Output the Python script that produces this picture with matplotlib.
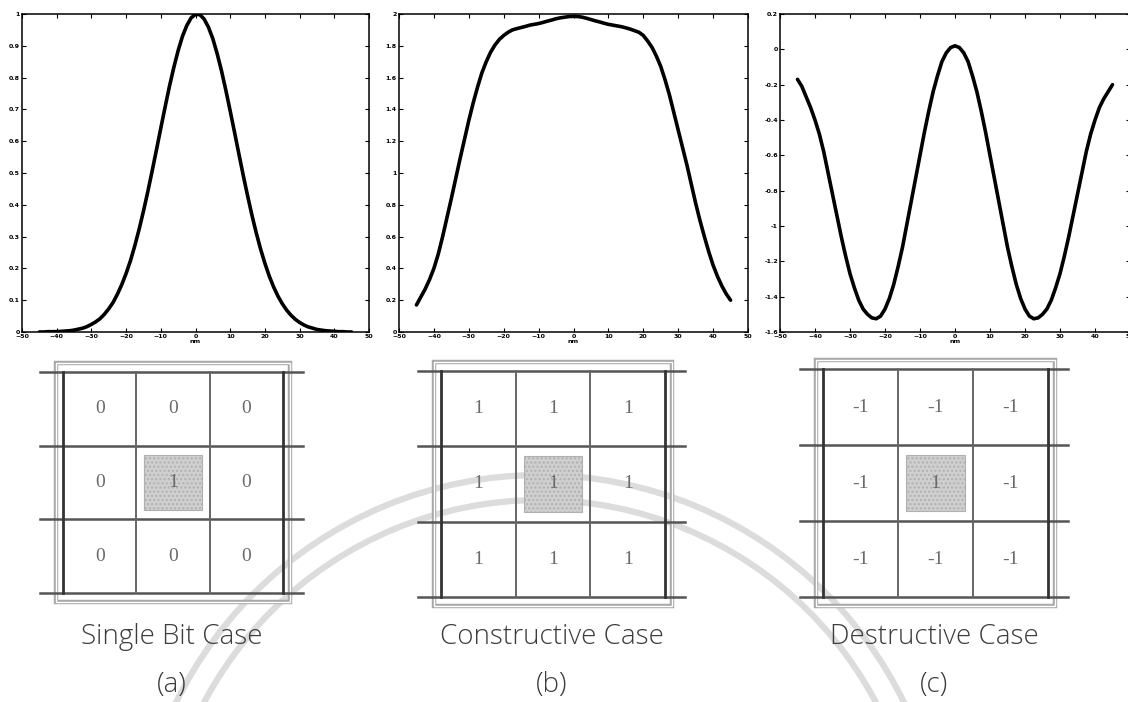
import matplotlib
matplotlib.use("Agg")
import matplotlib.pyplot as plt
from matplotlib.patches import Rectangle, Arc
from matplotlib.ticker import FuncFormatter

# perfiles de intensidad (nm vs amplitud)
nm = [-45, -43.75, -42.5, -41.25, -40, -38.75, -37.5, -36.25, -35, -33.75,
      -32.5, -31.25, -30, -28.75, -27.5, -26.25, -25, -23.75, -22.5, -21.25,
      -20, -18.75, -17.5, -16.25, -15, -13.75, -12.5, -11.25, -10, -8.75,
      -7.5, -6.25, -5, -3.75, -2.5, -1.25, 0, 1.25, 2.5, 3.75, 5, 6.25, 7.5,
      8.75, 10, 11.25, 12.5, 13.75, 15, 16.25, 17.5, 18.75, 20, 21.25, 22.5,
      23.75, 25, 26.25, 27.5, 28.75, 30, 31.25, 32.5, 33.75, 35, 36.25, 37.5,
      38.75, 40, 41.25, 42.5, 43.75, 45]

perfil_simple = [0.000, 0.000, 0.001, 0.001, 0.001, 0.002, 0.003, 0.004,
                 0.006, 0.009, 0.012, 0.017, 0.024, 0.032, 0.042, 0.056,
                 0.073, 0.093, 0.119, 0.149, 0.184, 0.224, 0.271, 0.323,
                 0.380, 0.441, 0.506, 0.573, 0.641, 0.708, 0.773, 0.832,
                 0.885, 0.930, 0.964, 0.988, 0.999, 0.998, 0.984, 0.958,
                 0.922, 0.875, 0.821, 0.760, 0.695, 0.628, 0.560, 0.493,
                 0.429, 0.368, 0.312, 0.261, 0.216, 0.176, 0.142, 0.113,
                 0.089, 0.069, 0.053, 0.040, 0.030, 0.022, 0.016, 0.012,
                 0.008, 0.006, 0.004, 0.003, 0.002, 0.001, 0.001, 0.000,
                 0.000]

perfil_constructivo = [0.17, 0.22, 0.27, 0.33, 0.40, 0.49, 0.60, 0.72, 0.84,
                       0.965, 1.09, 1.21, 1.33, 1.44, 1.54, 1.63, 1.70, 1.76,
                       1.805, 1.84, 1.865, 1.885, 1.90, 1.908, 1.915, 1.922,
                       1.93, 1.935, 1.94, 1.947, 1.955, 1.962, 1.97, 1.976,
                       1.98, 1.984, 1.985, 1.984, 1.98, 1.973, 1.965, 1.957,
                       1.95, 1.942, 1.935, 1.93, 1.925, 1.92, 1.913, 1.905,
                       1.895, 1.885, 1.865, 1.83, 1.79, 1.735, 1.67, 1.585,
                       1.49, 1.38, 1.27, 1.16, 1.05, 0.93, 0.81, 0.70, 0.60,
                       0.505, 0.42, 0.35, 0.29, 0.24, 0.20]

perfil_destructivo = [-0.17, -0.21, -0.27, -0.33, -0.40, -0.48, -0.58, -0.70,
                      -0.82, -0.94, -1.06, -1.17, -1.27, -1.35, -1.42, -1.47,
                      -1.50, -1.52, -1.525, -1.51, -1.47, -1.41, -1.33, -1.23,
                      -1.12, -0.99, -0.86, -0.73, -0.60, -0.47, -0.35, -0.24,
                      -0.15, -0.07, -0.02, 0.01, 0.02, 0.01, -0.02, -0.07,
                      -0.15, -0.24, -0.35, -0.47, -0.60, -0.73, -0.86, -0.99,
                      -1.12, -1.23, -1.33, -1.41, -1.47, -1.51, -1.525, -1.52,
                      -1.50, -1.47, -1.42, -1.35, -1.27, -1.17, -1.06, -0.94,
                      -0.82, -0.70, -0.58, -0.48, -0.40, -0.33, -0.28, -0.24,
                      -0.20]

# matrices de bits 3x3
bits_simple = [[0, 0, 0], [0, 1, 0], [0, 0, 0]]
bits_constructivo = [[1, 1, 1], [1, 1, 1], [1, 1, 1]]
bits_destructivo = [[-1, -1, -1], [-1, 1, -1], [-1, -1, -1]]

titulos = ["Single Bit Case", "Constructive Case", "Destructive Case"]
letras = ["(a)", "(b)", "(c)"]

W, H = 1128, 702


def caja(x0, y0, x1, y1):
    # rectangulo en pixeles -> coordenadas de figura
    return [x0 / W, 1 - y1 / H, (x1 - x0) / W, (y1 - y0) / H]


fig = plt.figure(figsize=(W / 100, H / 100), dpi=100)

# marca de agua de fondo
fondo = fig.add_axes([0, 0, 1, 1], zorder=-5)
fondo.set_xlim(0, W)
fondo.set_ylim(H, 0)
fondo.axis("off")
for r in (405, 380):
    fondo.add_patch(Arc((540, 880), 2 * r, 2 * r, theta1=0, theta2=360,
                        color="#dcdcdc", lw=4.5))


def graficarPerfil(pos, senal, ylim, yticks):
    ax = fig.add_axes(caja(*pos))
    ax.plot(nm, senal, color="black", lw=2.6, solid_capstyle="round",
            solid_joinstyle="round")
    ax.set_xlim(-50, 50)
    ax.set_ylim(*ylim)
    ax.set_xticks(range(-50, 51, 10))
    ax.set_yticks(yticks)
    ax.yaxis.set_major_formatter(FuncFormatter(lambda v, p: "%g" % round(v, 2)))
    ax.tick_params(direction="in", top=True, right=True, length=3, width=0.8,
                   labelsize=4.5, pad=1.5)
    for lbl in ax.get_xticklabels() + ax.get_yticklabels():
        lbl.set_fontweight("bold")
    ax.set_xlabel("nm", fontsize=4.5, fontweight="bold", labelpad=0)
    for s in ax.spines.values():
        s.set_linewidth(1.1)
    return ax


graficarPerfil((22, 14, 369, 332), perfil_simple, (0, 1),
               [i / 10 for i in range(11)])
graficarPerfil((399, 14, 748, 332), perfil_constructivo, (0, 2),
               [i / 5 for i in range(11)])
graficarPerfil((780, 14, 1130, 332), perfil_destructivo, (-1.6, 0.2),
               [-1.6 + i * 0.2 for i in range(10)])


def graficarMatriz(pos, bits):
    ax = fig.add_axes(caja(*pos))
    ax.set_xlim(0, 3)
    ax.set_ylim(3, 0)
    ax.axis("off")
    ax.patch.set_alpha(0)
    # marco exterior doble
    ax.add_patch(Rectangle((-0.09, -0.12), 3.19, 3.24, fill=False,
                           edgecolor="#a8a8a8", lw=3.2, clip_on=False))
    ax.add_patch(Rectangle((-0.09, -0.12), 3.19, 3.24, fill=False,
                           edgecolor="white", lw=1.0, clip_on=False))
    # lineas horizontales
    for f in range(4):
        ax.plot([-0.31, 3.27], [f, f], color="#555555", lw=1.8,
                clip_on=False)
    # lineas verticales
    for c in range(4):
        borde = c in (0, 3)
        ax.plot([c, c], [0, 3], color="#333333" if borde else "#666666",
                lw=2.0 if borde else 1.4, clip_on=False)
    # celda central resaltada
    ax.add_patch(Rectangle((1.11, 1.13), 0.78, 0.74, facecolor="#cfcfcf",
                           edgecolor="#b0b0b0", lw=0.8, hatch="....",
                           zorder=1))
    for f in range(3):
        for c in range(3):
            ax.text(c + 0.5, f + 0.5, str(bits[f][c]), ha="center",
                    va="center", fontsize=14, color="#6a6a6a",
                    family="Liberation Serif", zorder=3)
    return ax


graficarMatriz((63, 372, 283, 593), bits_simple)
graficarMatriz((441, 371, 665, 597), bits_constructivo)
graficarMatriz((823, 369, 1048, 597), bits_destructivo)

for x, t, l in zip([172, 552, 934], titulos, letras):
    fig.text(x / W, 1 - 637 / H, t, ha="center", va="center", fontsize=20,
             color="#3c3c3c", family="Open Sans", fontweight="light")
    fig.text(x / W, 1 - 685 / H, l, ha="center", va="center", fontsize=20,
             color="#3c3c3c", family="Open Sans", fontweight="light")

plt.savefig("out.png", dpi=100)
